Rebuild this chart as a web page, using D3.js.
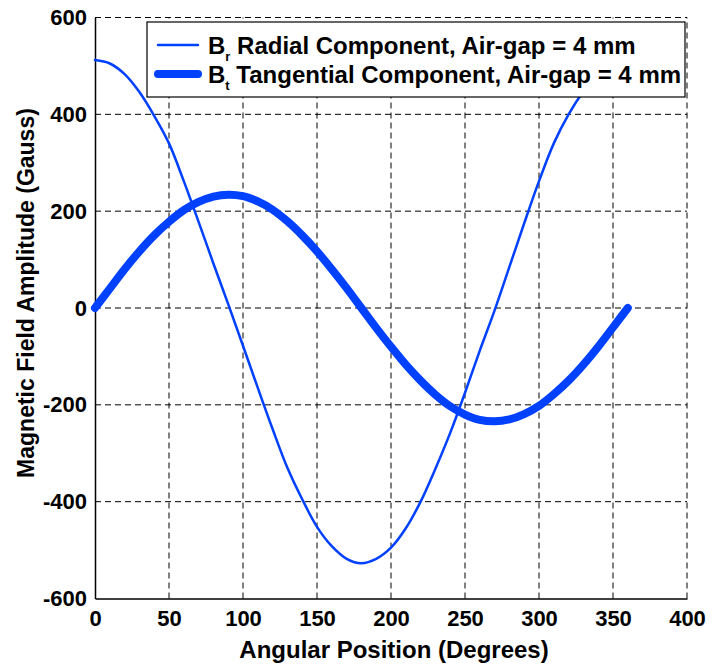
<!DOCTYPE html>
<html>
<head>
<meta charset="utf-8">
<script src="https://cdn.jsdelivr.net/npm/d3@7"></script>
<style>
  body { margin: 0; background: #fff; }
  text { font-family: "Liberation Sans", Arial, sans-serif; font-weight: bold; fill: #000; }
</style>
</head>
<body>
<svg id="chart" width="724" height="664"></svg>
<script>
// angular position (deg)
var angles = [0,10,20,30,40,50,60,70,80,90,100,110,120,130,140,150,160,170,180,
              190,200,210,220,230,240,250,260,270,280,290,300,310,320,330,340,350,360];
// radial component, air-gap 4 mm (Gauss)
var br = [512,505,483,446,397,340,262,178,92,8,-78,-165,-250,-330,-395,-452,-492,-518,-527,
          -518,-495,-455,-400,-332,-258,-175,-88,-5,85,175,262,340,400,447,484,505,512];
// tangential component, air-gap 4 mm (Gauss)
var bt = [0,40,80,117,150,178,202,219,230,234,231,220,203,179,150,117,80,41,0,
          -41,-80,-117,-150,-179,-203,-220,-231,-234,-230,-219,-202,-178,-150,-117,-80,-40,0];

var xTicks = [0,50,100,150,200,250,300,350,400];
var yTicks = [-600,-400,-200,0,200,400,600];
var legendLabels = [
  {b: "B", sub: "r", rest: " Radial Component, Air-gap = 4 mm", w: 2.5},
  {b: "B", sub: "t", rest: " Tangential Component, Air-gap = 4 mm", w: 8}
];

var blue = "#0040ff";
var svg = d3.select("#chart");

var x = d3.scaleLinear().domain([0, 400]).range([95, 687]);
var y = d3.scaleLinear().domain([-600, 600]).range([598.5, 17.5]);

// grid (dashed)
var grid = svg.append("g");
grid.selectAll(".vg").data(xTicks.filter(d => d > 0)).enter().append("line")
  .attr("x1", d => x(d)).attr("x2", d => x(d))
  .attr("y1", y(-600)).attr("y2", y(600))
  .attr("stroke", "#000").attr("stroke-width", 1).attr("stroke-dasharray", "6,4");
grid.selectAll(".hg").data(yTicks.filter(d => d > -600)).enter().append("line")
  .attr("x1", x(0)).attr("x2", x(400))
  .attr("y1", d => y(d)).attr("y2", d => y(d))
  .attr("stroke", "#000").attr("stroke-width", 1).attr("stroke-dasharray", "6,4");

// axes (plain hyphen for negatives, like the original)
var fmt = d => String(d);
var xAxis = svg.append("g").attr("transform", "translate(0," + y(-600) + ")")
  .call(d3.axisBottom(x).tickValues(xTicks).tickFormat(fmt).tickSize(0).tickPadding(12));
var yAxis = svg.append("g").attr("transform", "translate(" + x(0) + ",0)")
  .call(d3.axisLeft(y).tickValues(yTicks).tickFormat(fmt).tickSize(0).tickPadding(8));
[xAxis, yAxis].forEach(function(a){
  a.select(".domain").attr("stroke", "#000").attr("stroke-width", 1.5);
  a.selectAll("text").style("font-size", "22px").style("font-family", "Liberation Sans, Arial, sans-serif").style("font-weight", "bold");
});

// curves
var line = d3.line().curve(d3.curveCatmullRom)
  .x((d, i) => x(angles[i])).y(d => y(d));

svg.append("path").datum(br).attr("d", line)
  .attr("fill", "none").attr("stroke", blue).attr("stroke-width", 2.5).attr("stroke-linecap", "round");
svg.append("path").datum(bt).attr("d", line)
  .attr("fill", "none").attr("stroke", blue).attr("stroke-width", 8).attr("stroke-linecap", "round");

// legend
var lg = svg.append("g");
lg.append("rect").attr("x", 147).attr("y", 22).attr("width", 538).attr("height", 75)
  .attr("fill", "#fff").attr("stroke", "#000").attr("stroke-width", 1.2);
legendLabels.forEach(function(l, i){
  var cy = 45 + i * 29;
  lg.append("line").attr("x1", 158).attr("x2", 198).attr("y1", cy).attr("y2", cy)
    .attr("stroke", blue).attr("stroke-width", l.w).attr("stroke-linecap", "round");
  var t = lg.append("text").attr("x", 208).attr("y", cy + 9).style("font-size", "24px");
  t.append("tspan").text(l.b);
  t.append("tspan").attr("dy", 7).style("font-size", "13px").text(l.sub);
  t.append("tspan").attr("dy", -7).text(l.rest);
});

// titles
svg.append("text").attr("x", 394).attr("y", 658).attr("text-anchor", "middle")
  .style("font-size", "24px").text("Angular Position (Degrees)");
svg.append("text").attr("transform", "translate(34,293) rotate(-90)").attr("text-anchor", "middle")
  .style("font-size", "23px").text("Magnetic Field Amplitude (Gauss)");
</script>
</body>
</html>
